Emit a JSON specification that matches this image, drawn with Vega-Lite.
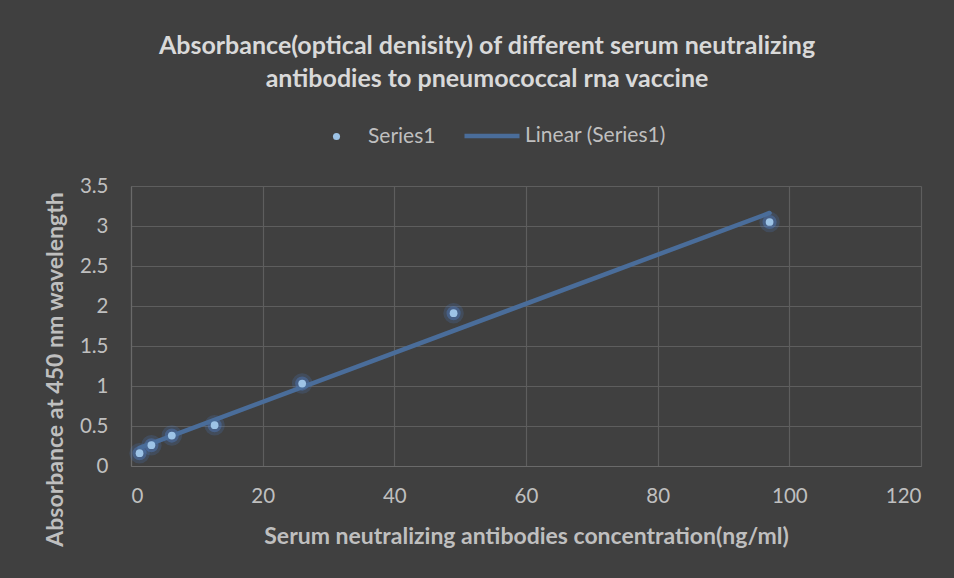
{
  "$schema": "https://vega.github.io/schema/vega-lite/v6.json",
  "width": 790,
  "height": 280,
  "autosize": {"type": "none"},
  "padding": {"left": 131, "top": 186, "right": 33, "bottom": 112},
  "background": "#404040",
  "title": {
    "text": ["Absorbance(optical denisity) of different serum neutralizing", "antibodies to pneumococcal rna vaccine"],
    "anchor": "middle",
    "frame": "group",
    "dx": -39,
    "offset": 14,
    "font": "Lato",
    "fontSize": 25,
    "fontWeight": "bold",
    "color": "#d9d9d9",
    "lineHeight": 33
  },
  "config": {
    "view": {"stroke": null},
    "axis": {
      "gridColor": "#5e5e5e",
      "gridWidth": 1.2,
      "domainColor": "#6a6a6a",
      "domainWidth": 1.2,
      "ticks": false,
      "labelColor": "#bfbfbf",
      "labelFont": "Lato",
      "labelFontSize": 20.5,
      "titleColor": "#bfbfbf",
      "titleFont": "Lato",
      "titleFontSize": 23,
      "titleFontWeight": "bold"
    },
    "legend": {
      "labelColor": "#bfbfbf",
      "labelFont": "Lato",
      "labelFontSize": 21,
      "padding": 0
    }
  },
  "data": {
    "values": [
      {"conc": 1.3, "abs": 0.16},
      {"conc": 3.1, "abs": 0.26},
      {"conc": 6.2, "abs": 0.38},
      {"conc": 12.7, "abs": 0.51},
      {"conc": 26, "abs": 1.03},
      {"conc": 49, "abs": 1.91},
      {"conc": 97, "abs": 3.05}
    ]
  },
  "encoding": {
    "x": {
      "field": "conc",
      "type": "quantitative",
      "scale": {"domain": [0, 120], "nice": false},
      "axis": {
        "values": [0, 20, 40, 60, 80, 100, 120],
        "title": "Serum neutralizing antibodies concentration(ng/ml)",
        "labelPadding": 20,
        "titleY": 70,
        "titleBaseline": "middle",
        "grid": true
      }
    },
    "y": {
      "field": "abs",
      "type": "quantitative",
      "scale": {"domain": [0, 3.5], "nice": false},
      "axis": {
        "values": [0, 0.5, 1, 1.5, 2, 2.5, 3, 3.5],
        "format": "~g",
        "title": "Absorbance at 450 nm wavelength",
        "labelPadding": 23,
        "titleX": -76,
        "titleY": 183,
        "titleBaseline": "middle",
        "grid": true
      }
    }
  },
  "layer": [
    {
      "mark": {"type": "point", "filled": true, "size": 420, "opacity": 0.18, "color": "#4f86d9"}
    },
    {
      "mark": {"type": "point", "filled": true, "size": 200, "opacity": 0.35, "color": "#4f86d9"}
    },
    {
      "transform": [{"regression": "abs", "on": "conc"}],
      "mark": {"type": "line", "strokeWidth": 4.5, "strokeCap": "round"},
      "encoding": {
        "color": {
          "datum": "Linear (Series1)",
          "scale": {"range": ["#4a6d9a"]},
          "legend": {
            "title": null,
            "orient": "none",
            "legendX": 331,
            "legendY": -80,
            "symbolType": "stroke",
            "symbolSize": 3025,
            "symbolStrokeWidth": 4.5,
            "labelOffset": 3
          }
        }
      }
    },
    {
      "mark": {"type": "point", "filled": true, "size": 60, "opacity": 1},
      "encoding": {
        "color": {
          "datum": "Series1",
          "scale": {"range": ["#9dc3e6"]},
          "legend": {
            "title": null,
            "orient": "none",
            "legendX": 195,
            "legendY": -60,
            "symbolType": "circle",
            "symbolSize": 50,
            "symbolOpacity": 1,
            "labelOffset": 21
          }
        }
      }
    }
  ],
  "resolve": {"scale": {"color": "independent"}, "legend": {"color": "independent"}}
}
